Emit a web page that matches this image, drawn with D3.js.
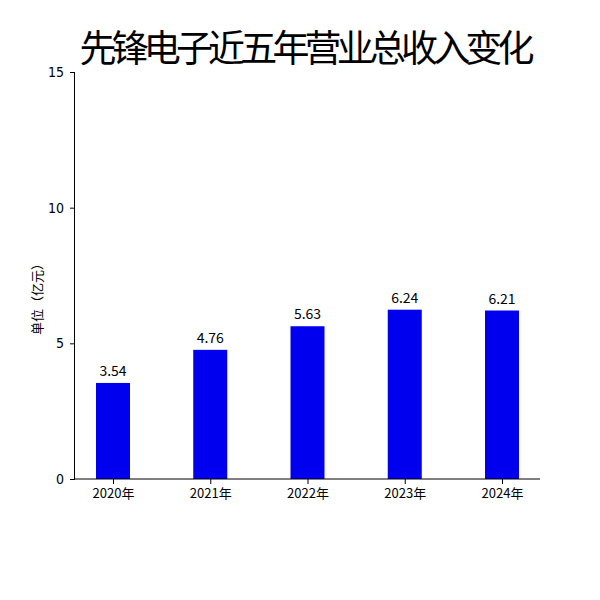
<!DOCTYPE html>
<html><head><meta charset="utf-8">
<script src="https://cdn.jsdelivr.net/npm/d3@7"></script>
<style>body{margin:0;background:#fff}text{font-family:"Noto Sans CJK SC","DejaVu Sans Condensed",sans-serif}</style>
</head><body>
<svg id="chart" width="600" height="600"></svg>
<script>
const years = ["2020年", "2021年", "2022年", "2023年", "2024年"];
const revenue = [3.54, 4.76, 5.63, 6.24, 6.21];
const yTicks = [0, 5, 10, 15];

const svg = d3.select("#chart");
const plotLeft = 75, plotRight = 540, plotTop = 72, plotBottom = 479;

const x = d3.scalePoint().domain(years).range([113, 502]);
const y = d3.scaleLinear().domain([0, 15]).range([plotBottom, plotTop]);
const barW = 34;

// title
svg.append("text").attr("x", 307).attr("y", 62).attr("text-anchor", "middle")
  .style("font-size", "37px").attr("textLength", 455).text("先锋电子近五年营业总收入变化");

// bars
svg.append("g").selectAll("rect").data(revenue).join("rect")
  .attr("x", (d, i) => x(years[i]) - barW / 2)
  .attr("y", d => y(d))
  .attr("width", barW)
  .attr("height", d => plotBottom - y(d))
  .attr("fill", "#0000ee");

svg.append("g").selectAll("text").data(revenue).join("text")
  .attr("x", (d, i) => x(years[i]))
  .attr("y", d => y(d) - 7)
  .attr("text-anchor", "middle")
  .style("font-size", "14px")
  .text(d => d.toFixed(2));

// axes
const yAxis = svg.append("g").attr("transform", `translate(${plotLeft},0)`)
  .call(d3.axisLeft(y).tickValues(yTicks).tickSize(5).tickPadding(6));
yAxis.select(".domain").attr("d", `M-0.5,${plotBottom}V${plotTop}`).attr("stroke", "#000");
yAxis.selectAll("text").style("font-size", "14px").style("font-family", "DejaVu Sans Condensed");

const xAxis = svg.append("g").attr("transform", `translate(0,${plotBottom})`)
  .call(d3.axisBottom(x).tickSize(5).tickPadding(5));
xAxis.select(".domain").remove();
xAxis.append("line").attr("x1", plotLeft).attr("x2", plotRight).attr("stroke", "#000");
xAxis.selectAll("text").style("font-size", "13px").style("fill", "#000");

svg.append("text").attr("transform", "translate(42,296) rotate(-90)")
  .attr("text-anchor", "middle").style("font-size", "13px").text("单位（亿元）");
</script>
</body></html>
